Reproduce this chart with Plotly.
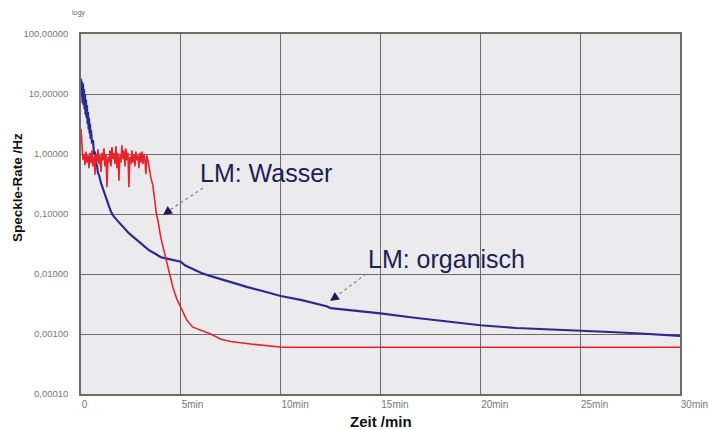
import plotly.graph_objects as go

# ---- data ----
blue_t = [0.00, 0.03, 0.05, 0.08, 0.10, 0.13, 0.15, 0.18, 0.20, 0.23, 0.25, 0.28, 0.30, 0.33,
          0.35, 0.38, 0.40, 0.43, 0.45, 0.48, 0.50, 0.55, 0.60, 0.65,
          0.70, 0.75, 0.80, 0.85, 0.90, 1.00, 1.10, 1.20, 1.30, 1.40, 1.50, 1.60, 1.80, 2.00,
          2.20, 2.40, 2.60, 2.80, 3.00, 3.20, 3.40, 3.70, 4.00, 4.30, 4.50, 4.80, 5.00, 5.20,
          5.50, 6.00, 6.50, 7.00, 7.50, 8.30, 9.00, 10.00, 11.00, 12.00, 12.30, 12.50, 13.50,
          15.00, 16.50, 18.40, 20.00, 21.80, 23.50, 25.00, 26.50, 27.80, 29.00, 30.00]
blue_v = [18, 9, 16, 7, 15, 6.5, 12, 5.5, 10, 4.5, 8, 4, 6.5, 3.2,
          5, 2.6, 4, 2.2, 3.2, 1.8, 2.5, 1.5, 1.7, 1.0,
          1.1, 0.7, 0.65, 0.48, 0.45, 0.33, 0.26, 0.2, 0.16, 0.135, 0.11, 0.095, 0.079, 0.066,
          0.056, 0.048, 0.042, 0.037, 0.032, 0.028, 0.025, 0.022, 0.019, 0.018, 0.0175, 0.0165, 0.016, 0.014,
          0.0126, 0.0105, 0.0092, 0.0082, 0.0072, 0.0061, 0.0053, 0.0043, 0.0037, 0.0031, 0.0029, 0.0027, 0.0025,
          0.0022, 0.0019, 0.0016, 0.0014, 0.00126, 0.0012, 0.00112, 0.00108, 0.00103, 0.00097, 0.00093]

red_t = [0.00, 0.03, 0.06, 0.10, 0.15, 0.20, 0.25, 0.30, 0.35, 0.40, 0.45, 0.50, 0.55, 0.60,
         0.65, 0.70, 0.75, 0.80, 0.85, 0.90, 0.95, 1.00, 1.05, 1.10, 1.15, 1.20, 1.25, 1.30,
         1.35, 1.40, 1.45, 1.50, 1.55, 1.60, 1.65, 1.70, 1.75, 1.80, 1.85, 1.90, 1.95, 2.00,
         2.05, 2.10, 2.15, 2.20, 2.25, 2.30, 2.35, 2.40, 2.45, 2.50, 2.55, 2.60, 2.65, 2.70,
         2.75, 2.80, 2.85, 2.90, 2.95, 3.00, 3.05, 3.10, 3.15, 3.20, 3.25, 3.30, 3.35, 3.40,
         3.50, 3.60, 3.70, 3.78, 3.86, 4.00, 4.15, 4.30, 4.45, 4.60, 4.80, 5.05, 5.30, 5.60,
         6.00, 6.50, 7.00, 7.50, 8.50, 9.50, 10.10, 15.00, 20.00, 25.00, 30.00]
red_v = [2.6, 1.8, 1.1, 0.8, 1.0, 0.65, 1.1, 0.72, 0.95, 0.58, 1.05, 0.7, 1.15, 0.62,
         0.9, 0.45, 1.0, 0.72, 1.2, 0.68, 0.95, 0.5, 1.05, 0.78, 1.25, 0.62, 1.0, 0.28,
         0.9, 0.72, 1.15, 0.62, 1.3, 0.82, 1.05, 0.68, 1.35, 0.58, 1.05, 0.36, 0.95, 0.72,
         1.4, 0.82, 1.15, 0.62, 1.25, 0.78, 1.05, 0.28, 0.9, 0.68, 1.15, 0.72, 1.0, 0.62,
         1.1, 0.78, 0.95, 0.58, 1.05, 0.72, 1.1, 0.68, 1.0, 0.82, 0.46, 0.95, 0.78, 0.58,
         0.4, 0.3, 0.15, 0.1, 0.075, 0.04, 0.025, 0.015, 0.009, 0.006, 0.0038, 0.0025, 0.0017, 0.0013,
         0.00115, 0.001, 0.00082, 0.00075, 0.00068, 0.00062, 0.0006, 0.0006, 0.0006, 0.0006, 0.0006]

y_tickvals = [0.0001, 0.001, 0.01, 0.1, 1, 10, 100]
y_ticktext = ["0,00010", "0,00100", "0,01000", "0,10000", "1,00000", "10,00000", "100,00000"]
x_tickvals = [0, 5, 10, 15, 20, 25, 30]
x_ticktext = ["0", "5min", "10min", "15min", "20min", "25min", "30min"]

FONT = "Liberation Sans, Arial, sans-serif"
GRID = "#6f6c68"
NAVY = "#1e1e55"

fig = go.Figure()
fig.add_trace(go.Scatter(x=blue_t, y=blue_v, mode="lines",
                         line=dict(color="#2b2b8f", width=2.2), showlegend=False))
fig.add_trace(go.Scatter(x=red_t, y=red_v, mode="lines",
                         line=dict(color="#e8232b", width=1.6), showlegend=False))

fig.update_layout(
    width=709, height=430,
    margin=dict(l=81, r=29, t=34, b=36, autoexpand=False),
    paper_bgcolor="white", plot_bgcolor="#ebebee",
    font=dict(family=FONT, color="#666666"),
    xaxis=dict(range=[0, 30], tickvals=x_tickvals, ticktext=x_ticktext,
               showgrid=True, gridcolor=GRID, gridwidth=1.3,
               showline=True, linecolor=GRID, linewidth=1.6, mirror=True,
               ticks="", zeroline=False, ticklabelposition="outside right",
               automargin=False,
               tickfont=dict(size=10, color="#777777")),
    yaxis=dict(type="log", range=[-4, 2], tickvals=y_tickvals, ticktext=y_ticktext,
               showgrid=True, gridcolor=GRID, gridwidth=1.3,
               showline=True, linecolor=GRID, linewidth=1.6, mirror=True,
               ticks="outside", ticklen=9, tickcolor="white", zeroline=False,
               automargin=False,
               tickfont=dict(size=9.5, color="#777777")),
)

def px(x):
    return (x - 81) / 599.0

def py(y):
    return (394 - y) / 360.0

def label(text, x, y, size, color, angle=0):
    fig.add_annotation(text=text, xref="paper", yref="paper", x=px(x), y=py(y),
                       xanchor="center", yanchor="middle", textangle=angle,
                       showarrow=False, font=dict(size=size, color=color, family=FONT))

label("logy", 78, 13, 7, "#666666")
label("<b>Speckle-Rate /Hz</b>", 17, 188, 13.5, "#111111", angle=-90)
label("<b>Zeit /min</b>", 381, 421, 15, "#111111")
label("LM: Wasser", 266, 173, 25, NAVY)
label("LM: organisch", 446, 259, 25, NAVY)

# dotted leader lines
fig.add_shape(type="line", xref="paper", yref="paper",
              x0=px(203), y0=py(188), x1=px(167), y1=py(212),
              line=dict(color="#8a8a8a", width=1.3, dash="dot"))
fig.add_shape(type="line", xref="paper", yref="paper",
              x0=px(366), y0=py(274), x1=px(334), y1=py(298),
              line=dict(color="#8a8a8a", width=1.3, dash="dot"))
# arrowheads
for tx, ty in [(163, 215), (330, 301)]:
    fig.add_annotation(text="", xref="paper", yref="paper", x=px(tx), y=py(ty),
                       ax=7, ay=-5, showarrow=True, arrowhead=2, arrowsize=1.2,
                       arrowwidth=1.5, arrowcolor=NAVY, standoff=0)

fig.write_html("out.html")
